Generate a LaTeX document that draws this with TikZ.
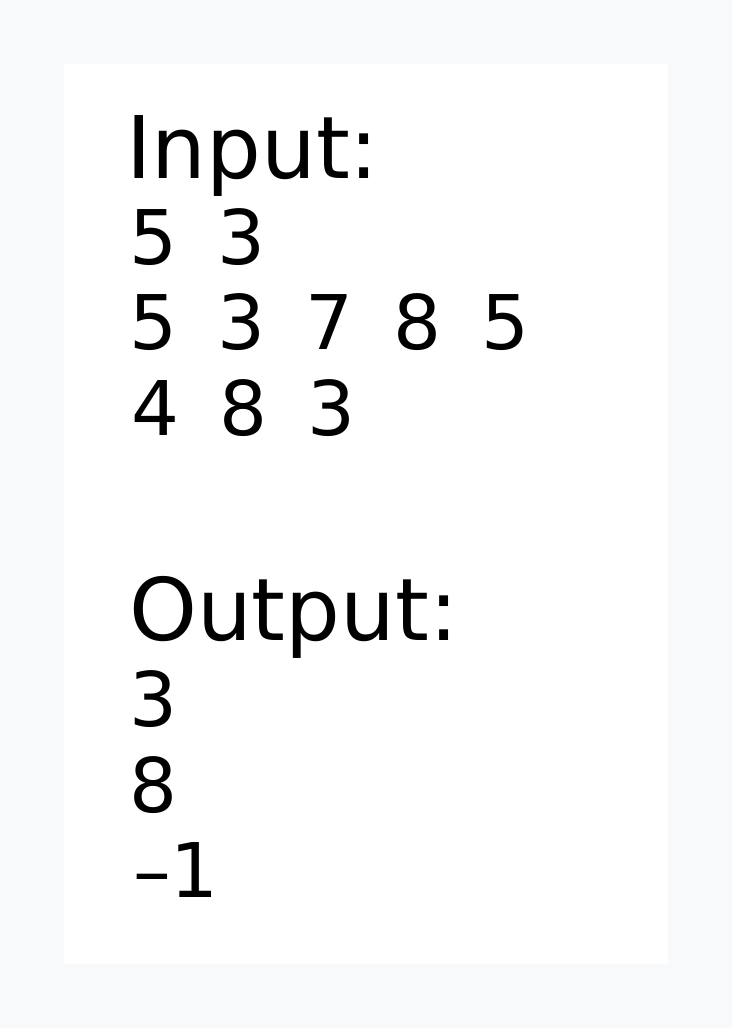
\documentclass[tikz,border=0pt]{standalone}
\usepackage{fontspec}
\setmainfont{DejaVu Sans}
\definecolor{pagebg}{HTML}{F8F9FB}
\newcommand\gp{\hspace{40.2pt}}
\tikzset{
  head/.style={anchor=base west, inner sep=0pt, font=\fontsize{86.4}{100}\selectfont},
  row/.style={anchor=base west, inner sep=0pt, font=\fontsize{75.4}{90}\selectfont},
}
\begin{document}
\begin{tikzpicture}[x=1pt,y=-1pt]
\fill[pagebg] (0,0) rectangle (732,1028);
\useasboundingbox (0,0) rectangle (732,1028);
\fill[white] (64,64) rectangle (668,964);
\node[head] (inp) at (126,178) {Input:};
\node[row] (r1) at (129,264) {5\gp 3};
\node[row] (r2) at (129,349.5) {5\gp 3\gp 7\gp 8\gp 5};
\node[row] (r3) at (131,435) {4\gp 8\gp 3};
\node[head] (out) at (129,640) {Output:};
\node[row] (o1) at (129,726) {3};
\node[row] (o2) at (129,812) {8};
\node[row] (o3) at (133,897) {–1};
\end{tikzpicture}
\end{document}
